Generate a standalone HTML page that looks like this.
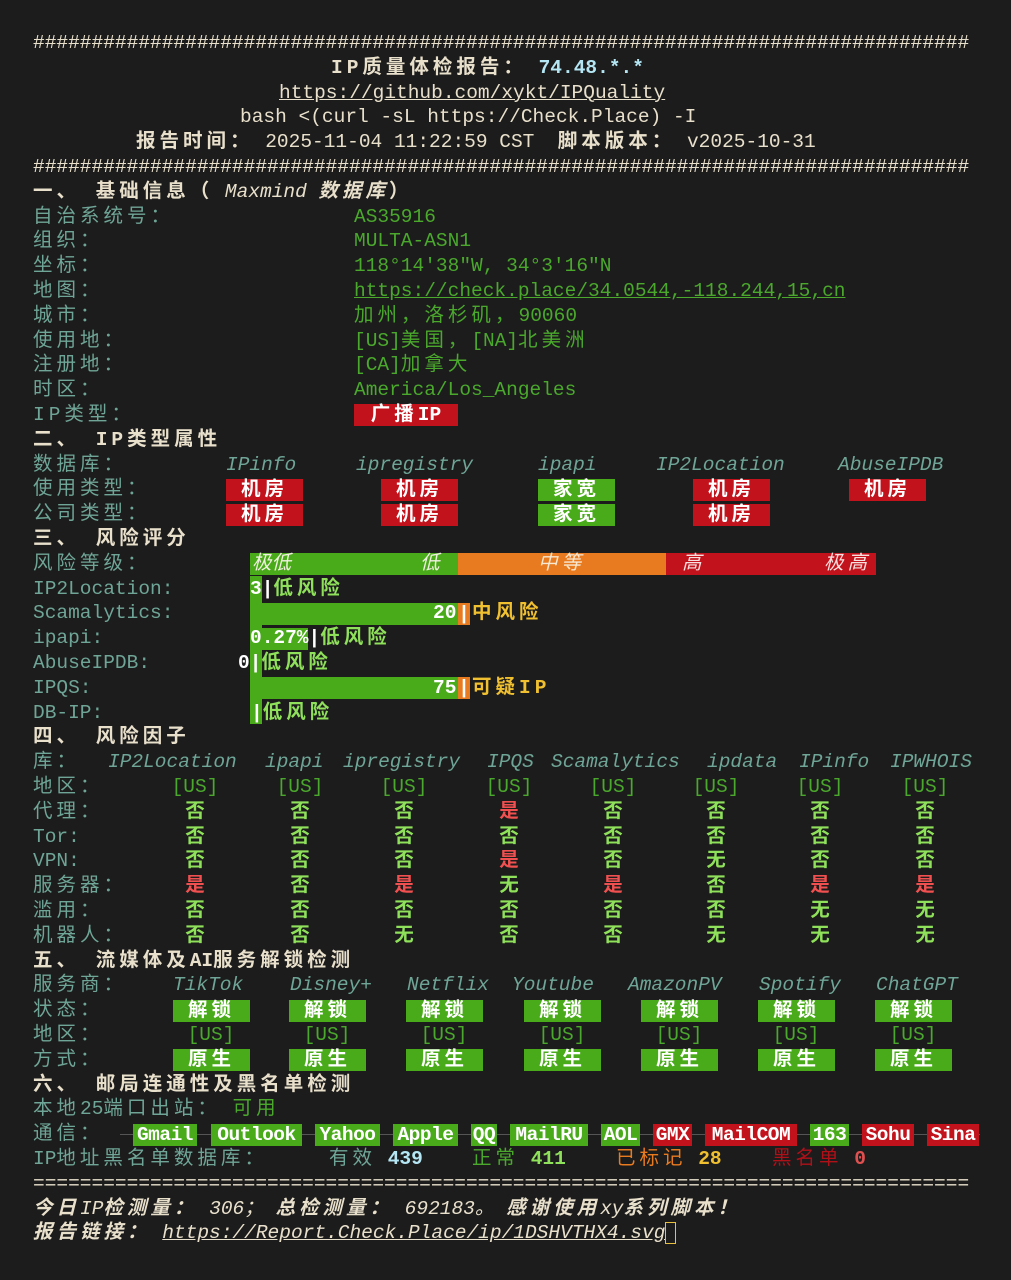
<!DOCTYPE html>
<html><head><meta charset="utf-8">
<style>
html,body{margin:0;padding:0;background:#1c1c1c;}
body{width:1011px;height:1280px;position:relative;overflow:hidden;font-family:"Liberation Mono","Noto Sans CJK SC",monospace;font-size:19.5px;color:#e9e0cc;}
.a{position:absolute;white-space:pre;line-height:24.8px;height:24.8px;}
.c{letter-spacing:4px;}
.b{font-weight:bold;}
.i{font-style:italic;}
.lb{color:#6fa596;}
.v{color:#4aa82c;}
.u{text-decoration:underline;}
.box{position:absolute;height:22px;line-height:22px;text-align:center;color:#fff;font-weight:bold;white-space:pre;}
.g{background:#4aab1a;}
.r{background:#c2121c;}
.o{background:#e87a20;}
.y{color:#f0c030;}
.lg{color:#8fe05a;font-weight:bold;}
.red{color:#f05050;font-weight:bold;}
</style></head><body>
<div id="root"></div>
<script>
var R=document.body;
function T(i){return 31+i*24.8;}
function A(i,x,html,cls){var d=document.createElement('div');d.className='a '+(cls||'');d.style.top=T(i)+'px';d.style.left=x+'px';d.innerHTML=html;R.appendChild(d);return d;}
function B(i,x,w,html,cls){var d=document.createElement('div');d.className='box '+cls;d.style.top=(T(i)+1.4)+'px';d.style.left=x+'px';d.style.width=w+'px';d.innerHTML=html;R.appendChild(d);return d;}
function C(i,cx,html,cls){var d=A(i,0,html,cls);d.style.left=(cx-60)+'px';d.style.width='120px';d.style.textAlign='center';return d;}
var H='#'.repeat(80);
A(0,33,H);
A(1,331,'<span class="b c">IP质量体检报告：</span> <span class="b" style="color:#b4e6f4">74.48.*.*</span>');
A(2,279,'<span class="u">https://github.com/xykt/IPQuality</span>');
A(3,240,'bash &lt;(curl -sL https://Check.Place) -I');
A(4,136,'<span class="b c">报告时间：</span> 2025-11-04 11:22:59 CST  <span class="b c">脚本版本：</span> v2025-10-31');
A(5,33,H);
A(6,33,'<span class="b c">一、 基础信息（</span> <span class="i">Maxmind</span> <span class="b i c">数据库</span><span class="b">）</span>');
var L=[['自治系统号：','AS35916'],['组织：','MULTA-ASN1'],['坐标：','118°14′38″W, 34°3′16″N'],['地图：','<span class="u">https://check.place/34.0544,-118.244,15,cn</span>'],['城市：','<span class="c">加州，洛杉矶，</span>90060'],['使用地：','[US]<span class="c">美国，</span>[NA]<span class="c">北美洲</span>'],['注册地：','[CA]<span class="c">加拿大</span>'],['时区：','America/Los_Angeles'],['IP类型：','']];
L.forEach(function(p,k){A(7+k,33,p[0],'lb c');if(p[1])A(7+k,354,p[1],'v');});
B(15,354,104,'<span class="c">广播</span>IP','r');
A(16,33,'<span class="b c">二、 IP类型属性</span>');
A(17,33,'数据库：','lb c');A(18,33,'使用类型：','lb c');A(19,33,'公司类型：','lb c');
[[226,'IPinfo'],[356,'ipregistry'],[538,'ipapi'],[656,'IP2Location'],[838,'AbuseIPDB']].forEach(function(p){A(17,p[0],p[1],'lb i');});
var bx=[[226,'r','机房'],[381,'r','机房'],[538,'g','家宽'],[693,'r','机房'],[849,'r','机房']];
bx.forEach(function(p,k){B(18,p[0],77,'<span class="c">'+p[2]+'</span>',p[1]);if(k<4)B(19,p[0],77,'<span class="c">'+p[2]+'</span>',p[1]);});
A(20,33,'<span class="b c">三、 风险评分</span>');
['风险等级：','IP2Location:','Scamalytics:','ipapi:','AbuseIPDB:','IPQS:','DB-IP:'].forEach(function(s,k){A(21+k,33,s,'lb'+(k==0?' c':''));});
B(21,250,208,'','g');B(21,458,208,'','o');B(21,666,210,'','r');
A(21,252,'<span class="i" style="color:#f0f0e0">极低</span>');A(21,420,'<span class="i" style="color:#f0f0e0">低</span>');
A(21,538,'<span class="i c" style="color:#f8e8d0">中等</span>');A(21,682,'<span class="i" style="color:#f8e0e0">高</span>');A(21,824,'<span class="i c" style="color:#f8e0e0">极高</span>');
var s=document.createElement('div');s.style.cssText='position:absolute;left:250px;top:576px;width:12px;height:148px;background:#4aab1a';R.appendChild(s);
function risk(i,bw,num,numx,txt,orange){
 if(bw)B(i,250,bw,'','g');
 if(orange){B(i,458,12,'|','o');A(i,numx,'<span class="b" style="color:#fff">'+num+'</span>');A(i,472,txt,'b y c');}
 else{A(i,numx,'<span class="b" style="color:#fff">'+num+'|</span><span class="lg c">低风险</span>');}
}
risk(22,0,'3',250,'',false);
risk(23,208,'20',433,'中风险',true);
risk(24,58,'0.27%',250,'',false);
risk(25,0,'0',238,'',false);
risk(26,208,'75',433,'可疑IP',true);
risk(27,0,'',251,'',false);
A(28,33,'<span class="b c">四、 风险因子</span>');
A(29,33,'库：','lb c');
[[108,'IP2Location'],[265,'ipapi'],[343,'ipregistry'],[487,'IPQS'],[551,'Scamalytics'],[707,'ipdata'],[799,'IPinfo'],[890,'IPWHOIS']].forEach(function(p){A(29,p[0],p[1],'lb i');});
var cx=[195,300,404,509,613,716,820,925];
var rows=[['地区：',null],['代理：','否否否是否否否否'],['Tor:','否否否否否否否否'],['VPN:','否否否是否无否否'],['服务器：','是否是无是否是是'],['滥用：','否否否否否否无无'],['机器人：','否否无否否无无无']];
rows.forEach(function(r,k){A(30+k,33,r[0],'lb'+(/[A-Z]/.test(r[0])?'':' c'));
 cx.forEach(function(x,j){if(!r[1])C(30+k,x,'[US]','v');else{var ch=r[1][j];C(30+k,x,ch,ch=='是'?'red':'lg');}});});
A(37,33,'<span class="b c">五、 流媒体及</span><span class="b">AI</span><span class="b c">服务解锁检测</span>');
A(38,33,'服务商：','lb c');A(39,33,'状态：','lb c');A(40,33,'地区：','lb c');A(41,33,'方式：','lb c');
[[173,'TikTok'],[290,'Disney+'],[407,'Netflix'],[512,'Youtube'],[628,'AmazonPV'],[759,'Spotify'],[876,'ChatGPT']].forEach(function(p){A(38,p[0],p[1],'lb i');});
[211,327,444,562,679,796,913].forEach(function(x){B(39,x-38,77,'<span class="c">解锁</span>','g');C(40,x,'[US]','v');B(41,x-38,77,'<span class="c">原生</span>','g');});
A(42,33,'<span class="b c">六、 邮局连通性及黑名单检测</span>');
A(43,33,'<span class="c">本地</span>25<span class="c">端口出站：</span> <span class="v c">可用</span>','lb');
A(44,33,'通信：','lb c');
var ln=document.createElement('div');ln.style.cssText='position:absolute;left:120px;top:1134px;width:860px;height:1px;background:#555';R.appendChild(ln);
[[133,197,'Gmail','g'],[211,302,'Outlook','g'],[315,380,'Yahoo','g'],[393,458,'Apple','g'],[471,497,'QQ','g'],[510,588,'MailRU','g'],[601,640,'AOL','g'],[653,692,'GMX','r'],[705,797,'MailCOM','r'],[810,849,'163','g'],[862,914,'Sohu','r'],[927,979,'Sina','r']].forEach(function(p){var d=B(44,p[0],p[1]-p[0],p[2],p[3]);d.style.letterSpacing='-0.5px';});
A(45,33,'IP<span class="c">地址黑名单数据库：</span>','lb');
A(45,329,'<span class="c lb">有效</span> <span class="b" style="color:#b4e6f4">439</span>');
A(45,472,'<span class="c v">正常</span> <span class="lg">411</span>');
A(45,616,'<span class="c" style="color:#e87a20">已标记</span> <span class="b y">28</span>');
A(45,772,'<span class="c" style="color:#b01018">黑名单</span> <span class="b" style="color:#e05050">0</span>');
A(46,33,'='.repeat(80));
A(47,33,'<span class="i"><span class="b c">今日</span>IP<span class="b c">检测量：</span> 306； <span class="b c">总检测量：</span> 692183。 <span class="b c">感谢使用</span>xy<span class="b c">系列脚本！</span></span>');
A(48,33,'<span class="i"><span class="b c">报告链接：</span> <span class="u">https://Report.Check.Place/ip/1DSHVTHX4.svg</span></span><span style="display:inline-block;width:11px;height:22px;border:1.5px solid #e8c040;vertical-align:middle;box-sizing:border-box"></span>');
</script>
</body></html>
